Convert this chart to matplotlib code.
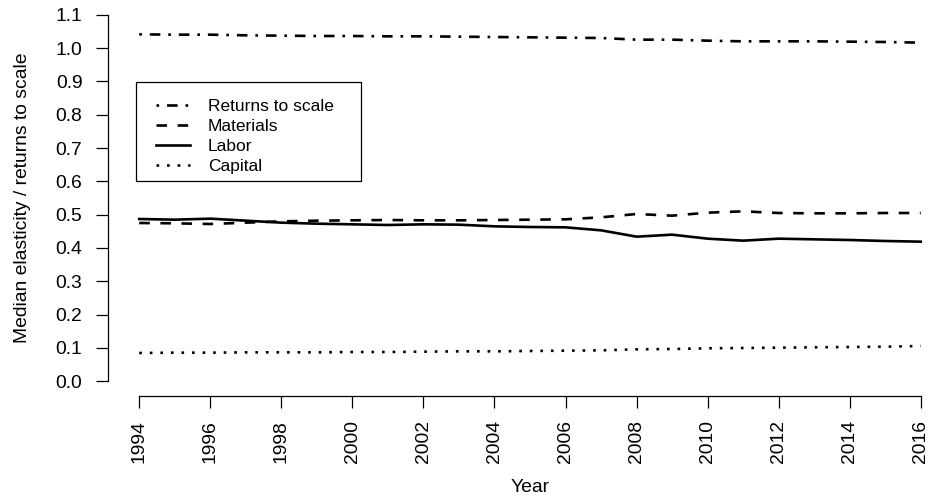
import matplotlib
matplotlib.use('Agg')
import matplotlib.pyplot as plt
from matplotlib.patches import Rectangle

plt.rcParams['font.family'] = ['Liberation Sans', 'DejaVu Sans']

years = list(range(1994, 2017))
returns_to_scale = [1.041, 1.040, 1.040, 1.038, 1.037, 1.036, 1.036, 1.035,
                    1.035, 1.034, 1.033, 1.032, 1.031, 1.030, 1.025, 1.025,
                    1.022, 1.020, 1.020, 1.020, 1.019, 1.018, 1.016]
materials = [0.475, 0.474, 0.472, 0.476, 0.480, 0.482, 0.483, 0.484,
             0.483, 0.483, 0.484, 0.485, 0.486, 0.492, 0.502, 0.497,
             0.506, 0.510, 0.505, 0.504, 0.504, 0.505, 0.505]
labor = [0.487, 0.485, 0.488, 0.482, 0.476, 0.473, 0.471, 0.469,
         0.471, 0.470, 0.465, 0.463, 0.462, 0.453, 0.434, 0.440,
         0.428, 0.422, 0.428, 0.426, 0.424, 0.421, 0.419]
capital = [0.085, 0.086, 0.086, 0.087, 0.087, 0.087, 0.088, 0.088,
           0.089, 0.090, 0.090, 0.091, 0.092, 0.093, 0.096, 0.097,
           0.099, 0.100, 0.101, 0.102, 0.103, 0.104, 0.106]

yticks = [round(0.1 * i, 1) for i in range(12)]
xticks = list(range(1994, 2017, 2))

W, H = 931, 497
fs = 13.9
fig = plt.figure(figsize=(W / 100, H / 100), dpi=100)
# plot region in pixels (R style, runs past the right edge)
left, right, top, bottom = 108, 952, 0, 396
ax = fig.add_axes([left / W, (H - bottom) / H, (right - left) / W, (bottom - top) / H])

lw = 1.9
ax.plot(years, returns_to_scale, color='black', lw=lw, ls=(0, (1, 3, 4, 3)),
        dash_capstyle='butt', label='Returns to scale')
ax.plot(years, materials, color='black', lw=lw, ls=(0, (4, 4)),
        dash_capstyle='butt', label='Materials')
ax.plot(years, labor, color='black', lw=lw, ls='-', label='Labor')
ax.plot(years, capital, color='black', lw=lw, ls=(0, (1, 3)),
        dash_capstyle='butt', label='Capital')

pad_x = 0.04 * (2016 - 1994)
pad_y = 0.04 * 1.1
ax.set_xlim(1994 - pad_x, 2016 + pad_x)
ax.set_ylim(0 - pad_y, 1.1 + pad_y)

for s in ['top', 'right']:
    ax.spines[s].set_visible(False)
ax.spines['left'].set_bounds(0, 1.1)
ax.spines['bottom'].set_bounds(1994, 2016)
for s in ['left', 'bottom']:
    ax.spines[s].set_linewidth(0.9)

ax.set_xticks(xticks)
ax.set_xticklabels([str(x) for x in xticks], rotation=90)
ax.set_yticks(yticks)
ax.set_yticklabels(['%.1f' % y for y in yticks])
ax.tick_params(direction='out', length=8.9, width=0.9, labelsize=fs)
ax.tick_params(axis='x', pad=8.5)
ax.tick_params(axis='y', pad=9.5)

ax.set_xlabel('Year', fontsize=fs, labelpad=11)
ax.set_ylabel('Median elasticity / returns to scale', fontsize=fs, labelpad=18)

# legend: entries without frame, then an R-like box around them
leg = ax.legend(loc='upper left',
                bbox_to_anchor=((156 - left) / (right - left), 1 - 99 / bottom),
                fontsize=12.5, frameon=False,
                handlelength=1.96, handletextpad=1.04, labelspacing=0.28,
                borderpad=0, borderaxespad=0)
fig.add_artist(Rectangle((136 / W, 1 - 181 / H), 225 / W, 99 / H,
                         transform=fig.transFigure, fill=False,
                         edgecolor='black', lw=0.9))

fig.savefig('out.png', dpi=100)
